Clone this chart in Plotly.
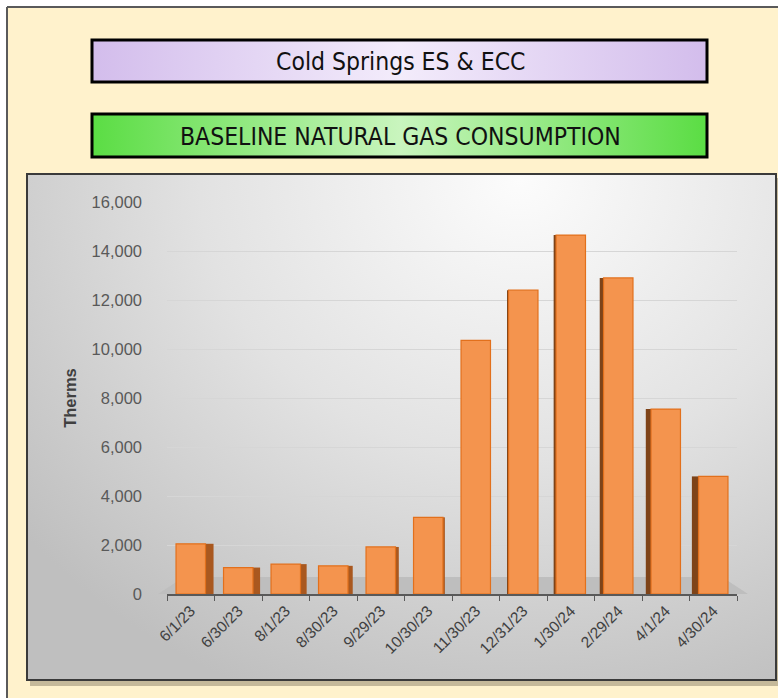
import plotly.graph_objects as go

# ---------------- data ----------------
dates = ["6/1/23", "6/30/23", "8/1/23", "8/30/23", "9/29/23", "10/30/23",
         "11/30/23", "12/31/23", "1/30/24", "2/29/24", "4/1/24", "4/30/24"]
therms = [2050, 1080, 1220, 1150, 1920, 3130, 10350, 12400, 14650, 12900, 7550, 4800]
y_ticks = [0, 2000, 4000, 6000, 8000, 10000, 12000, 14000, 16000]
title_1 = "Cold Springs ES & ECC"
title_2 = "BASELINE NATURAL GAS CONSUMPTION"
y_title = "Therms"

# ---------------- style ----------------
W, H = 778, 698
FRONT_W = 0.62
side_w = [0.17, 0.15, 0.13, 0.10, 0.07, 0.04, 0.0, 0.03, 0.05, 0.08, 0.11, 0.14]
side_right = [True, True, True, True, True, True, True, False, False, False, False, False]
TITLE_FONT = "DejaVu Sans Condensed, Liberation Sans Narrow, Arial Narrow"

def px(x):
    return x / W

def py(y):
    return (H - y) / H

def rect(x0, y0, x1, y1):
    return [x0, x1, x1, x0, x0], [y0, y0, y1, y1, y0]

fig = go.Figure()

# ---- background subplot (pixel coordinates) ----
xs, ys = rect(0, 0, W, H)
fig.add_trace(go.Scatter(x=xs, y=ys, fill="toself", fillcolor="#FFFFFF", mode="lines",
                         line=dict(width=0), hoverinfo="skip", showlegend=False))
xs, ys = rect(7, 7, W + 5, H + 5)
fig.add_trace(go.Scatter(x=xs, y=ys, fill="toself", fillcolor="#FFF2CC", mode="lines",
                         line=dict(width=2, color="#5A5A5A"), hoverinfo="skip", showlegend=False))
# title boxes
xs, ys = rect(93, 41, 706, 81)
fig.add_trace(go.Scatter(x=xs, y=ys, fill="toself", mode="lines", line=dict(width=0),
                         fillgradient=dict(type="horizontal",
                                           colorscale=[[0, "#D3BDEC"], [0.5, "#F3ECFB"], [1, "#D3BDEC"]]),
                         hoverinfo="skip", showlegend=False))
xs, ys = rect(93, 115, 706, 156)
fig.add_trace(go.Scatter(x=xs, y=ys, fill="toself", mode="lines", line=dict(width=0),
                         fillgradient=dict(type="horizontal",
                                           colorscale=[[0, "#5BDD44"], [0.5, "#C9F5BE"], [1, "#5BDD44"]]),
                         hoverinfo="skip", showlegend=False))
# shadow of plot area
xs, ys = rect(30, 178, 780, 686)
fig.add_trace(go.Scatter(x=xs, y=ys, fill="toself", fillcolor="rgba(90,80,60,0.35)", mode="lines",
                         line=dict(width=0), hoverinfo="skip", showlegend=False))

# ---- plot-area background subplot ----
xs, ys = rect(-120, -380, 1160, 740)
fig.add_trace(go.Scatter(x=xs, y=ys, fill="toself", mode="lines", line=dict(width=0),
                         fillgradient=dict(type="radial",
                                           colorscale=[[0, "#FCFCFC"], [0.5, "#E2E2E2"], [1, "#BFBFBF"]]),
                         hoverinfo="skip", showlegend=False, xaxis="x2", yaxis="y2"))
# floor
fig.add_trace(go.Scatter(x=[158, 748, 722, 184, 158], y=[594, 594, 577, 577, 594], fill="toself",
                         fillcolor="#BEBEBE", mode="lines", line=dict(width=0),
                         hoverinfo="skip", showlegend=False, xaxis="x2", yaxis="y2"))

# ---- bars subplot ----
offs = [FRONT_W / 2 if r else -FRONT_W / 2 - w for r, w in zip(side_right, side_w)]
side_col = ["#A9581F" if r else "#7E4318" for r in side_right]
fig.add_trace(go.Bar(x=dates, y=therms, width=side_w, offset=offs,
                     marker=dict(color=side_col, line=dict(width=0)),
                     hoverinfo="skip", showlegend=False, xaxis="x3", yaxis="y3"))
fig.add_trace(go.Bar(x=dates, y=therms, width=FRONT_W, offset=-FRONT_W / 2,
                     marker=dict(color="#F4944E", line=dict(width=1.2, color="#E2701C")),
                     showlegend=False, xaxis="x3", yaxis="y3"))

hidden = dict(visible=False, showgrid=False, zeroline=False, fixedrange=True, automargin=False)
fig.update_layout(
    width=W, height=H,
    margin=dict(l=0, r=0, t=0, b=0, pad=0, autoexpand=False),
    paper_bgcolor="#FFFFFF",
    plot_bgcolor="rgba(0,0,0,0)",
    barmode="overlay",
    xaxis=dict(domain=[0, 1], range=[0, W], **hidden),
    yaxis=dict(domain=[0, 1], range=[H, 0], **hidden),
    xaxis2=dict(domain=[px(27), px(776)], range=[27, 776], anchor="y2", **hidden),
    yaxis2=dict(domain=[py(680), py(174)], range=[680, 174], anchor="x2", **hidden),
    xaxis3=dict(domain=[px(167), px(737)], anchor="y3", type="category", automargin=False,
                showline=True, linecolor="#595959", linewidth=1.5,
                ticks="outside", tickson="boundaries", ticklen=5, tickcolor="#595959",
                tickangle=-45, tickfont=dict(family="Liberation Sans, Arial", size=15.5, color="#404040"),
                showgrid=False, zeroline=False),
    yaxis3=dict(domain=[py(594), py(202)], range=[0, 16000], anchor="x3", automargin=False,
                tickvals=y_ticks, tickformat=",d", ticks="", showline=False,
                tickfont=dict(family="Liberation Sans, Arial", size=16.5, color="#595959"),
                ticklabelstandoff=24,
                showgrid=True, gridcolor="#D6D6D6", gridwidth=1, zeroline=False,
                title=dict(text=y_title, font=dict(family="Liberation Sans, Arial", size=16.5,
                                                   color="#404040", weight="bold"),
                           standoff=10)),
    shapes=[
        dict(type="rect", xref="x", yref="y", x0=92, y0=40, x1=707, y1=82,
             line=dict(color="#000000", width=3), layer="above"),
        dict(type="rect", xref="x", yref="y", x0=92, y0=114, x1=707, y1=157,
             line=dict(color="#000000", width=3), layer="above"),
        dict(type="rect", xref="x", yref="y", x0=27, y0=174, x1=776, y1=680,
             line=dict(color="#3A3A3A", width=2), layer="above"),
    ],
    annotations=[
        dict(text=title_1, xref="x", yref="y", x=400, y=61, showarrow=False,
             font=dict(family=TITLE_FONT, size=24.5, color="#111111")),
        dict(text=title_2, xref="x", yref="y", x=400, y=136, showarrow=False,
             font=dict(family=TITLE_FONT, size=24.5, color="#111111")),
    ],
)

fig.write_html("out.html")
